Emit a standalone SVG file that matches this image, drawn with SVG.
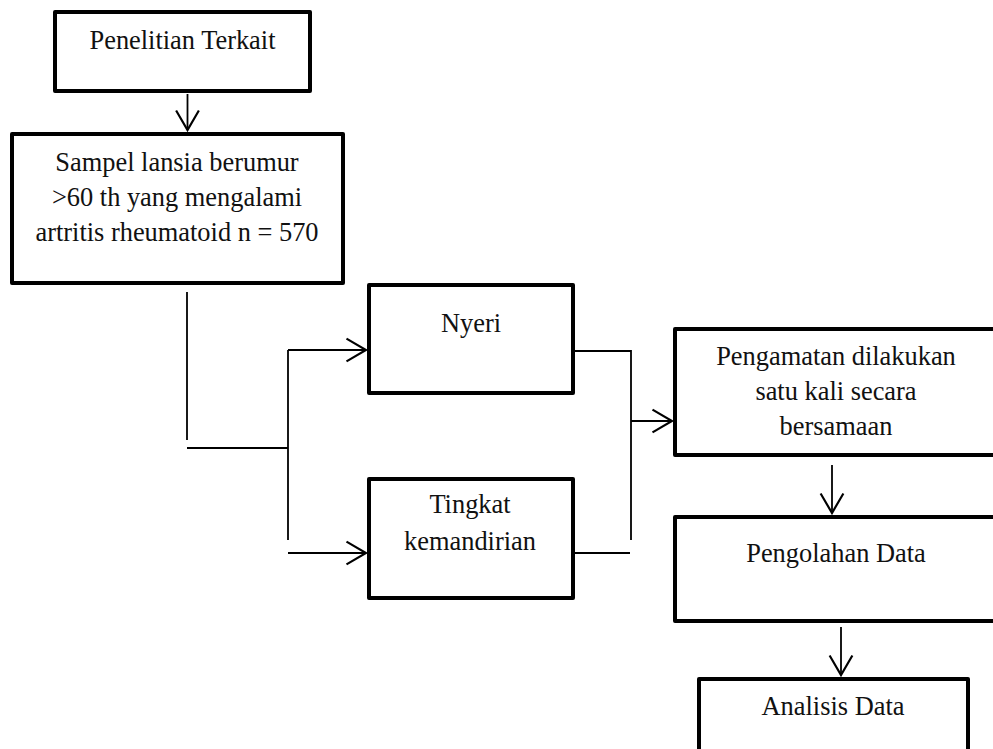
<svg xmlns="http://www.w3.org/2000/svg" width="993" height="749" viewBox="0 0 993 749">
<style>
.box{fill:#fff;stroke:#000;stroke-width:4;stroke-linejoin:round}
.lbl{font-family:"Liberation Serif","Times New Roman",serif;font-size:26.4px;fill:#111;text-anchor:middle}
.con{fill:none;stroke:#000;stroke-width:1.8}
</style>
<defs>
<marker id="arr" markerUnits="userSpaceOnUse" markerWidth="24" markerHeight="26" viewBox="-20 -12 22 24" refX="0" refY="0" orient="auto" overflow="visible">
<path d="M-18,-10.5 L0,0 L-18,10.5" fill="none" stroke="#000" stroke-width="2"/>
</marker>
</defs>
<rect width="993" height="749" fill="#fff"/>
<g id="connectors">
<path class="con" d="M187.5,94 V130" marker-end="url(#arr)"/>
<path class="con" d="M187,292 V440"/>
<path class="con" d="M187,448 H288"/>
<path class="con" d="M288,350 V540"/>
<path class="con" d="M288,350 H366" marker-end="url(#arr)"/>
<path class="con" d="M288,553 H366" marker-end="url(#arr)"/>
<path class="con" d="M575,351 H631 V540"/>
<path class="con" d="M575,553 H630"/>
<path class="con" d="M631,421 H672" marker-end="url(#arr)"/>
<path class="con" d="M832,465 V513" marker-end="url(#arr)"/>
<path class="con" d="M841,627 V675" marker-end="url(#arr)"/>
</g>
<g id="node-penelitian">
<rect class="box" x="55" y="12" width="255" height="79"/>
<text class="lbl" x="182.5" y="49">Penelitian Terkait</text>
</g>
<g id="node-sampel">
<rect class="box" x="12" y="134" width="331" height="149"/>
<text class="lbl" x="177" y="171">Sampel lansia berumur</text>
<text class="lbl" x="177" y="206">&gt;60 th yang mengalami</text>
<text class="lbl" x="177" y="241">artritis rheumatoid n = 570</text>
</g>
<g id="node-nyeri">
<rect class="box" x="369" y="285" width="204" height="108"/>
<text class="lbl" x="471" y="332">Nyeri</text>
</g>
<g id="node-tingkat">
<rect class="box" x="369" y="479" width="204" height="119"/>
<text class="lbl" x="470" y="513">Tingkat</text>
<text class="lbl" x="470" y="550">kemandirian</text>
</g>
<g id="node-pengamatan">
<rect class="box" x="675" y="329" width="330" height="126"/>
<text class="lbl" x="836" y="365">Pengamatan dilakukan</text>
<text class="lbl" x="836" y="400">satu kali secara</text>
<text class="lbl" x="836" y="435">bersamaan</text>
</g>
<g id="node-pengolahan">
<rect class="box" x="675" y="517" width="330" height="104"/>
<text class="lbl" x="836" y="562">Pengolahan Data</text>
</g>
<g id="node-analisis">
<rect class="box" x="699" y="679" width="269" height="100"/>
<text class="lbl" x="833" y="715">Analisis Data</text>
</g>
</svg>
